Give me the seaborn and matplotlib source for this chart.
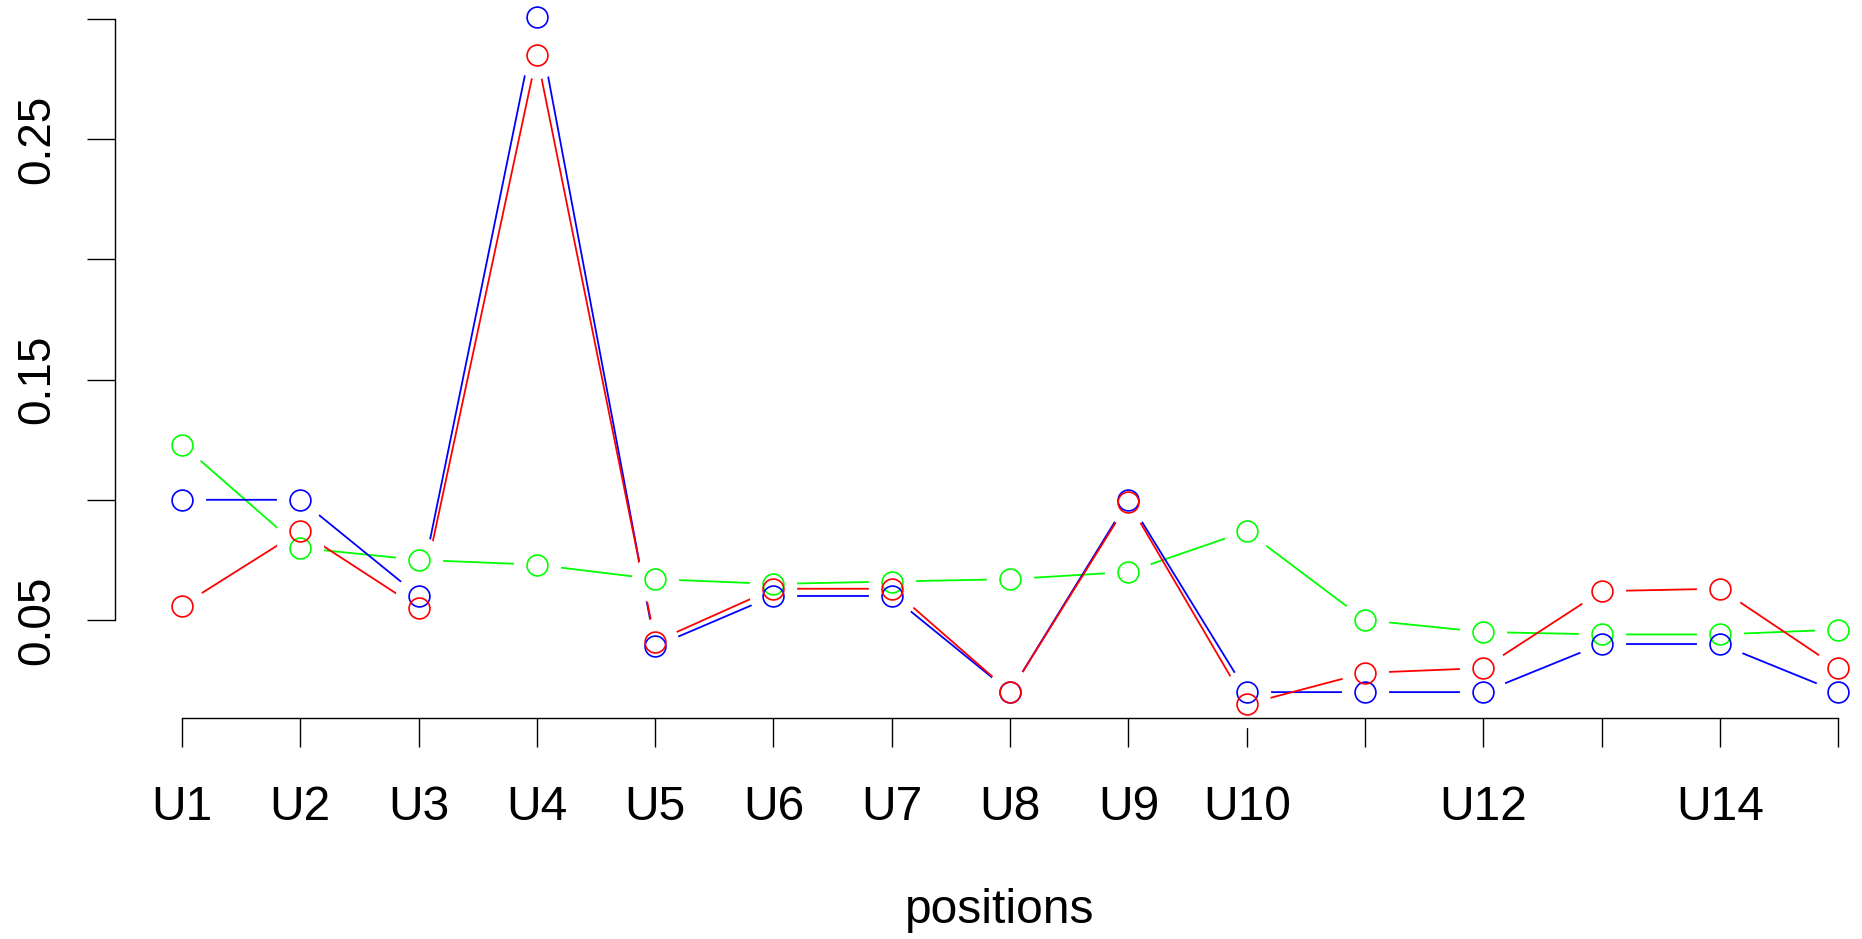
import numpy as np
import pandas as pd
import matplotlib
matplotlib.use('Agg')
import matplotlib.pyplot as plt
import seaborn as sns

# data
positions = ['U1', 'U2', 'U3', 'U4', 'U5', 'U6', 'U7', 'U8', 'U9', 'U10',
             'U11', 'U12', 'U13', 'U14', 'U15']
# R drops labels that would overlap
shown_labels = ['U1', 'U2', 'U3', 'U4', 'U5', 'U6', 'U7', 'U8', 'U9', 'U10',
                '', 'U12', '', 'U14', '']
blue_vals = [0.100, 0.100, 0.060, 0.301, 0.039, 0.060, 0.060, 0.020, 0.100, 0.020,
             0.020, 0.020, 0.040, 0.040, 0.020]
red_vals = [0.056, 0.087, 0.055, 0.285, 0.041, 0.063, 0.063, 0.020, 0.099, 0.015,
            0.028, 0.030, 0.062, 0.063, 0.030]
green_vals = [0.123, 0.080, 0.075, 0.073, 0.067, 0.065, 0.066, 0.067, 0.070, 0.087,
              0.050, 0.045, 0.044, 0.044, 0.046]
y_ticks = [0.05, 0.10, 0.15, 0.20, 0.25, 0.30]
y_labels = ['0.05', '', '0.15', '', '0.25', '']

series = {'green': green_vals, 'blue': blue_vals, 'red': red_vals}
colors = {'green': '#00FF00', 'blue': '#0000FF', 'red': '#FF0000'}

idx = np.arange(len(positions))
df = pd.concat([pd.DataFrame({'pos': idx, 'val': v, 'series': k})
                for k, v in series.items()], ignore_index=True)

sns.set_style('ticks')
plt.rcParams['font.family'] = ['Liberation Sans', 'DejaVu Sans']
plt.rcParams['text.color'] = 'black'
plt.rcParams['axes.labelcolor'] = 'black'
plt.rcParams['xtick.color'] = 'black'
plt.rcParams['ytick.color'] = 'black'

W, H = 1862, 939
fig = plt.figure(figsize=(W / 100, H / 100), dpi=100)
left, bottom, right = 115, 718, 1884
ax = fig.add_axes([left / W, (H - bottom) / H, (right - left) / W, bottom / H])

# lines
sns.lineplot(data=df, x='pos', y='val', hue='series', palette=colors,
             legend=False, linewidth=1.3, sort=False, ax=ax, zorder=2)

# R type="b": gap round every point, then open circle
for k, v in series.items():
    ax.plot(idx, v, linestyle='none', marker='o', markersize=33,
            markerfacecolor='white', markeredgecolor='white', zorder=3,
            clip_on=False)
for k, v in series.items():
    ax.plot(idx, v, linestyle='none', marker='o', markersize=15,
            markerfacecolor='none', markeredgecolor=colors[k],
            markeredgewidth=1.2, zorder=4, clip_on=False)

ax.set_xlim(-0.566, 14.387)
ax.set_ylim(0.05 - (bottom - 620) / 2404, 0.05 + 620 / 2404)

ax.set_xticks(idx)
ax.set_xticklabels(shown_labels, fontsize=34.5)
ax.set_yticks(y_ticks)
ax.set_yticklabels(y_labels, fontsize=33, rotation=90, va='center')
ax.tick_params(axis='x', length=21, width=1, pad=27, direction='out',
               colors='black')
ax.tick_params(axis='y', length=20, width=1, pad=20, direction='out',
               colors='black')

for s in ['top', 'right']:
    ax.spines[s].set_visible(False)
ax.spines['left'].set_bounds(0.05, 0.30)
ax.spines['bottom'].set_bounds(0, 14)
for s in ['left', 'bottom']:
    ax.spines[s].set_linewidth(1)
    ax.spines[s].set_color('black')
    ax.spines[s].set_zorder(6)

ax.set_xlabel('positions', fontsize=34.5, labelpad=42)
ax.set_ylabel('')
ax.set_facecolor('white')

fig.savefig('out.png', dpi=100)
